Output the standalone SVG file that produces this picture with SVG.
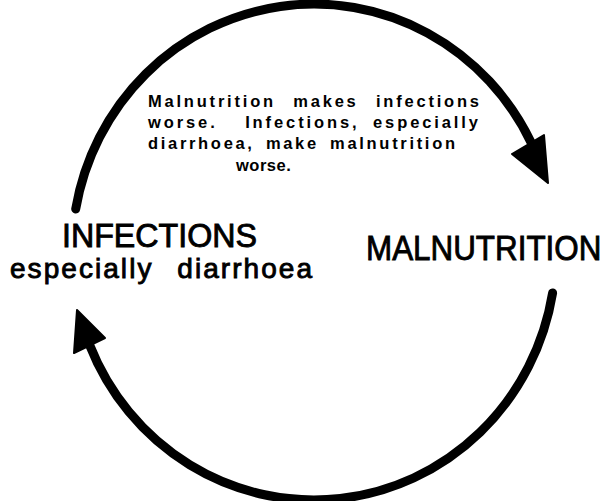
<svg xmlns="http://www.w3.org/2000/svg" width="613" height="501" viewBox="0 0 613 501">
<style>
.arc{fill:none;stroke:#000;stroke-width:9;stroke-linecap:round}
.head{fill:#000;stroke:#000;stroke-width:2;stroke-linejoin:round}
.lbl{font-family:"Liberation Sans",Arial,sans-serif;fill:#000;stroke:#000;stroke-width:0.9}
.note{font-family:"Liberation Sans",Arial,sans-serif;font-weight:bold;font-size:16.5px;fill:#000;word-spacing:10px}
</style>
<rect width="613" height="501" fill="#fff"/>
<g id="connectors">
  <path class="arc" d="M 75.7 209 A 242 248 0 0 1 531.5 143.3"/>
  <polygon class="head" points="512,154 544,135 548,183"/>
  <path class="arc" d="M 552.6 293 A 242 248 0 0 1 89.6 345"/>
  <polygon class="head" points="77,310 105,338 74,353"/>
</g>
<g id="note">
  <text class="note" x="148" y="107" textLength="331" lengthAdjust="spacing">Malnutrition makes infections</text>
  <text class="note" x="148" y="128" textLength="330" lengthAdjust="spacing" style="word-spacing:6px">worse. <tspan dx="14">Infections,</tspan> especially</text>
  <text class="note" x="148" y="149" textLength="307" lengthAdjust="spacing" style="word-spacing:4px">diarrhoea, make malnutrition</text>
  <text class="note" x="236" y="171" style="letter-spacing:0.5px">worse.</text>
</g>
<g id="infections">
  <text class="lbl" x="62" y="247" font-size="33" textLength="195" lengthAdjust="spacingAndGlyphs">INFECTIONS</text>
  <text class="lbl" x="10" y="278" font-size="28" textLength="302" lengthAdjust="spacing" style="word-spacing:14px">especially diarrhoea</text>
</g>
<g id="malnutrition">
  <text class="lbl" transform="translate(366,260) scale(0.872,1)" x="0" y="0" font-size="36">MALNUTRITION</text>
</g>
</svg>
